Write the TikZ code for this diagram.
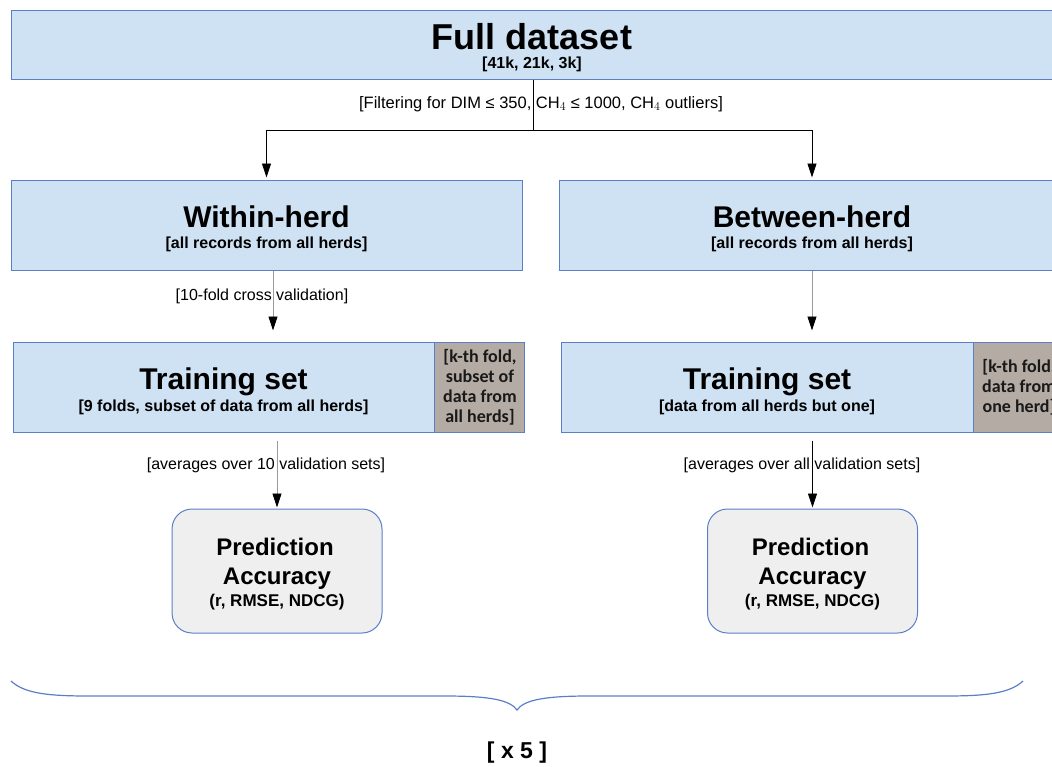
\documentclass[tikz,border=0pt]{standalone}
\usepackage{fontspec}
\setmainfont{Liberation Sans}
\newfontfamily\foldfont{Carlito}
\usetikzlibrary{arrows.meta}
\definecolor{boxblue}{HTML}{CFE2F3}
\definecolor{edgeblue}{HTML}{5B7FC7}
\definecolor{foldgray}{HTML}{B4ABA4}
\definecolor{accgray}{HTML}{EFEFEF}
\definecolor{linegray}{HTML}{9A9A9A}
\newcommand{\sz}[2]{\fontsize{#1}{#2}\selectfont}

\begin{document}
\begin{tikzpicture}[x=1pt,y=-1pt,
  bluebox/.style={draw=edgeblue,fill=boxblue,line width=1pt,inner sep=0pt},
  foldbox/.style={draw=edgeblue,fill=foldgray,line width=1pt,inner sep=0pt,minimum width=90pt,minimum height=90pt},
  accbox/.style={draw=edgeblue,fill=accgray,line width=1pt,rounded corners=20pt,inner sep=0pt,minimum width=210pt,minimum height=124pt},
  bigtitle/.style={anchor=base,inner sep=0pt,font=\sz{36}{40}\bfseries},
  title/.style={anchor=base,inner sep=0pt,font=\sz{30}{34}\bfseries},
  subtitle/.style={anchor=base,inner sep=0pt,font=\sz{16}{19}\bfseries},
  lbl/.style={anchor=base,inner sep=0pt,font=\sz{16}{19}},
  foldtext/.style={inner sep=0pt,align=center,font=\foldfont\sz{18}{20}\bfseries,text=black!90},
  acctitle/.style={anchor=base,inner sep=0pt,font=\sz{24}{28}\bfseries},
  arr/.style={-{Triangle[length=14pt,width=9pt,color=black]},line width=0.9pt}]
\clip (0,0) rectangle (1052,766);

% boxes
\node[bluebox,minimum width=1045pt,minimum height=69pt] (full) at (533.5,44.5) {};
\node[bluebox,minimum width=511pt,minimum height=90pt] (within) at (266.5,225) {};
\node[bluebox,minimum width=506pt,minimum height=90pt] (between) at (812,225) {};
\node[bluebox,minimum width=421pt,minimum height=90pt] (trainA) at (223.5,387) {};
\node[foldbox] (foldA) at (479,387) {};
\node[bluebox,minimum width=412pt,minimum height=90pt] (trainB) at (767,387) {};
\node[foldbox] (foldB) at (1018,387) {};
\node[accbox] (accA) at (277,571) {};
\node[accbox] (accB) at (812.5,571) {};

% texts
\node[bigtitle] (fullT) at (532,49) {Full dataset};
\node[subtitle] (fullS) at (532,68) {[41k, 21k, 3k]};
\node[title] (withinT) at (266.5,227) {Within-herd};
\node[subtitle] (withinS) at (266.5,248) {[all records from all herds]};
\node[title] (betweenT) at (812,227) {Between-herd};
\node[subtitle] (betweenS) at (812,248) {[all records from all herds]};
\node[title] (trainAT) at (223.5,389) {Training set};
\node[subtitle] (trainAS) at (223.5,411) {[9 folds, subset of data from all herds]};
\node[title] (trainBT) at (767,389) {Training set};
\node[subtitle] (trainBS) at (767,411) {[data from all herds but one]};
\node[foldtext] (foldAT) at (480,387) {[k-th fold,\\subset of\\data from\\all herds]};
\node[foldtext] (foldBT) at (1019,387) {[k-th fold,\\data from\\one herd]};
\node[acctitle] (accA1) at (275,555) {Prediction};
\node[acctitle] (accA2) at (277,584) {Accuracy};
\node[subtitle,font=\sz{17}{20}\bfseries] (accA3) at (277,606) {(r, RMSE, NDCG)};
\node[acctitle] (accB1) at (810.5,555) {Prediction};
\node[acctitle] (accB2) at (812.5,584) {Accuracy};
\node[subtitle,font=\sz{17}{20}\bfseries] (accB3) at (812.5,606) {(r, RMSE, NDCG)};

% labels
\node[lbl,font=\sz{16.5}{19}] (filter) at (541,108) {[Filtering for DIM ≤ 350, CH$_4$ ≤ 1000, CH$_4$ outliers]};
\node[lbl] (cv) at (262,300) {[10-fold cross validation]};
\node[lbl] (avgA) at (266,469) {[averages over 10 validation sets]};
\node[lbl] (avgB) at (802,469) {[averages over all validation sets]};

% connectors
\coordinate (split) at (533.5,130);
\draw[line width=0.9pt] (full.south) -- (split);
\draw[arr] (split) -| ([yshift=2pt]within.north);
\draw[arr] (split) -| ([yshift=2pt]between.north);
\draw[arr,draw=linegray,shorten >=11pt] ([xshift=6.5pt]within.south) -- ([xshift=6.5pt]within.south |- trainA.north);
\draw[arr,draw=linegray,shorten >=11pt] (between.south) -- (between.south |- trainB.north);
\draw[arr,draw=linegray,shorten <=8pt,shorten >=1pt] (accA.north |- trainA.south) -- (accA.north);
\draw[arr,shorten <=8pt,shorten >=1pt] (accB.north |- trainB.south) -- (accB.north);

% brace
\coordinate (braceL) at (11,681);
\coordinate (braceR) at (1023,681);
\coordinate (braceTip) at (517,710);
\draw[edgeblue,line width=1.2pt] (braceL) .. controls (25,694) and (50,696) .. (90,696)
  -- (445,696) .. controls (490,696) and (510,700) .. (braceTip)
  .. controls (524,700) and (544,696) .. (589,696) -- (944,696)
  .. controls (984,696) and (1009,694) .. (braceR);
\node[anchor=base,inner sep=0pt,font=\sz{23}{26}\bfseries] (times) at (517,758) {[ x 5 ]};
\end{tikzpicture}
\end{document}
